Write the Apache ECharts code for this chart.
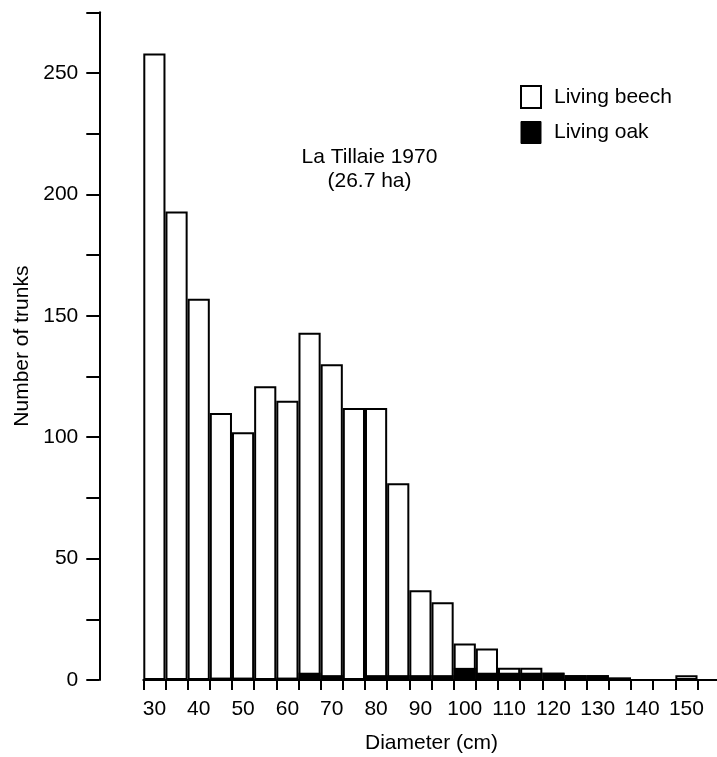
<!DOCTYPE html>
<html><head><meta charset="utf-8">
<script src="https://cdn.jsdelivr.net/npm/echarts@6/dist/echarts.min.js"></script>
<style>html,body{margin:0;padding:0;background:#fff}#c{width:717px;height:757px}</style>
</head><body><div id="c"></div>
<script>
// Diameter classes (cm), centre of each 5 cm class
const diameters = [30,35,40,45,50,55,60,65,70,75,80,85,90,95,100,105,110,115,120,125,130,135,140,145,150];
// Number of trunks per class
const beech = [258,193,157,110,102,121,115,143,130,112,112,81,37,32,15,13,5,5,3,2,2,1,0,0,2];
const oak   = [0,0,0,1,1,0,1,3,2,0,2,2,2,2,5,3,3,3,3,2,2,1,0,0,0];
const yTickLabels = [0,50,100,150,200,250];
const xTickLabels = [30,40,50,60,70,80,90,100,110,120,130,140,150];
const titleLines = ['La Tillaie 1970','(26.7 ha)'];

const FONT = "'Liberation Sans', Arial, Helvetica, sans-serif";
const chart = echarts.init(document.getElementById('c'), null, {renderer:'canvas'});
const cats = diameters.map(String).concat(['']);
chart.setOption({
  animation:false,
  backgroundColor:'#fff',
  textStyle:{fontFamily:FONT, color:'#000'},
  grid:{left:143.3, top:12.3, width:576.4, height:667.7, containLabel:false, outerBoundsMode:'none'},
  legend:{
    orient:'vertical', left:520, top:85, padding:0,
    itemWidth:20, itemHeight:22, itemGap:12,
    textStyle:{fontSize:21, color:'#000', fontFamily:FONT, padding:[0,0,0,8]},
    data:[
      {name:'Living beech', icon:'rect', itemStyle:{color:'#fff', borderColor:'#000', borderWidth:2}},
      {name:'Living oak', icon:'rect', itemStyle:{color:'#000', borderColor:'#000', borderWidth:1}}
    ]
  },
  xAxis:{
    type:'category', data:cats,
    axisLine:{lineStyle:{color:'#000', width:2}},
    axisTick:{show:true, length:10, lineStyle:{color:'#000', width:2}, interval:0},
    axisLabel:{interval:0, fontSize:21, color:'#000', fontFamily:FONT, margin:19,
      formatter:v => xTickLabels.indexOf(Number(v))>=0 && v!=='' ? v : ''},
    name:'Diameter (cm)', nameLocation:'middle', nameGap:53,
    nameTextStyle:{fontSize:21, color:'#000', fontFamily:FONT}
  },
  yAxis:{
    type:'value', min:0, max:275, interval:25, offset:44,
    splitLine:{show:false},
    axisLine:{show:true, lineStyle:{color:'#000', width:2}},
    axisTick:{show:true, length:13, lineStyle:{color:'#000', width:2}},
    axisLabel:{fontSize:21, color:'#000', fontFamily:FONT, margin:21,
      formatter:v => yTickLabels.indexOf(v)>=0 ? String(v) : ''},
    name:'Number of trunks', nameLocation:'middle', nameGap:61,
    nameTextStyle:{fontSize:21, color:'#000', fontFamily:FONT}
  },
  graphic:[
    {type:'text', x:369.5, y:157.5, style:{text:titleLines[0], font:'21px '+FONT, fill:'#000', textAlign:'center', textVerticalAlign:'middle'}},
    {type:'text', x:369.5, y:181.5, style:{text:titleLines[1], font:'21px '+FONT, fill:'#000', textAlign:'center', textVerticalAlign:'middle'}}
  ],
  series:[
    {name:'Living beech', type:'bar', data:beech, barCategoryGap:'0%', barGap:'-100%',
      itemStyle:{color:'#fff', borderColor:'#000', borderWidth:2}},
    {name:'Living oak', type:'bar', data:oak, barCategoryGap:'0%', barGap:'-100%',
      itemStyle:{color:'#000', borderWidth:0}}
  ]
});
</script></body></html>
